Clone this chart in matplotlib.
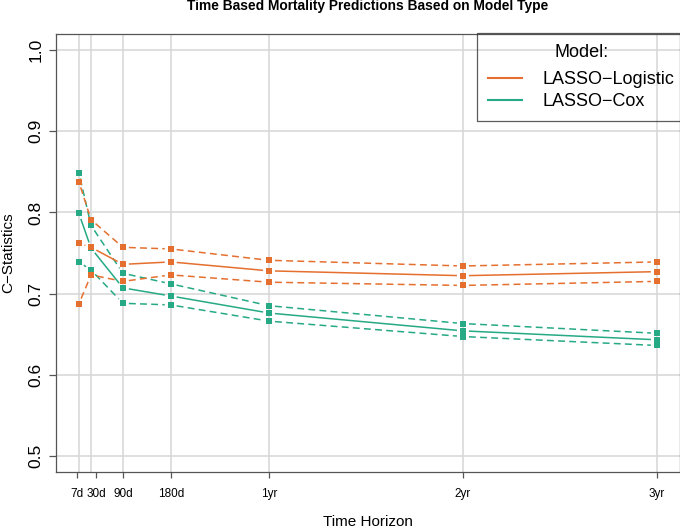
import matplotlib
matplotlib.use('Agg')
import matplotlib.pyplot as plt
from matplotlib.lines import Line2D
import numpy as np

plt.rcParams['font.family'] = ['Liberation Sans', 'DejaVu Sans']

# time horizons in days and their labels
days = [7, 30, 90, 180, 365, 730, 1095]
tick_labels = ['7d', '30d', '90d', '180d', '1yr', '2yr', '3yr']
tick_pos = [3, 40, 90, 180, 365, 730, 1095]   # 7d/30d labels pushed apart

# C-statistics with lower / upper bounds
logistic_mid = [0.762, 0.757, 0.736, 0.739, 0.728, 0.722, 0.727]
logistic_lo = [0.687, 0.723, 0.715, 0.723, 0.714, 0.710, 0.715]
logistic_hi = [0.838, 0.791, 0.757, 0.755, 0.741, 0.734, 0.739]

cox_mid = [0.799, 0.756, 0.707, 0.697, 0.676, 0.654, 0.643]
cox_lo = [0.739, 0.729, 0.688, 0.686, 0.666, 0.647, 0.636]
cox_hi = [0.849, 0.784, 0.725, 0.712, 0.685, 0.663, 0.651]

y_ticks = [0.5, 0.6, 0.7, 0.8, 0.9, 1.0]

col_log = '#E56F2E'
col_cox = '#26A985'
grid_col = '#D6D6D6'
W, H = 680, 528

fig = plt.figure(figsize=(W / 100, H / 100), dpi=100)
ax = fig.add_axes([55.7 / W, 1 - 472 / H, (W - 55.7) / W, (472 - 34) / H])
ax.set_xlim(7 - 0.04 * 1088, 1095 + 0.04 * 1088)
ax.set_ylim(0.48, 1.02)

for y in y_ticks:
    ax.axhline(y, color=grid_col, lw=1.1, zorder=0)
for d in days:
    ax.axvline(d, color=grid_col, lw=1.1, zorder=0)


def draw_b(x, y, color, dashed, gap=6.0):
    # R style type="b": points joined by lines that stop short of each point
    pts = ax.transData.transform(np.column_stack([x, y]))
    inv = ax.transData.inverted()
    for p, q in zip(pts[:-1], pts[1:]):
        v = q - p
        n = np.hypot(*v)
        if n <= 2 * gap:
            continue
        a = inv.transform(p + v / n * gap)
        b = inv.transform(q - v / n * gap)
        ln, = ax.plot([a[0], b[0]], [a[1], b[1]], color=color, lw=1.1,
                      solid_capstyle='butt', dash_capstyle='butt', zorder=2)
        if dashed:
            ln.set_dashes((4.5, 2.8))
    ax.plot(x, y, ls='none', marker='s', ms=4.2, mew=0, color=color, zorder=3)


draw_b(days, cox_lo, col_cox, True)
draw_b(days, cox_hi, col_cox, True)
draw_b(days, cox_mid, col_cox, False)
draw_b(days, logistic_lo, col_log, True)
draw_b(days, logistic_hi, col_log, True)
draw_b(days, logistic_mid, col_log, False)

for s in ax.spines.values():
    s.set_color('#555555')
    s.set_linewidth(0.9)

ax.set_xticks(tick_pos)
ax.set_xticklabels(tick_labels)
ax.set_yticks(y_ticks)
ax.set_yticklabels(['0.5', '0.6', '0.7', '0.8', '0.9', '1.0'], rotation=90, va='center')
ax.tick_params(axis='x', length=4.5, width=0.9, color='#555555', pad=7, labelsize=8.5)
ax.tick_params(axis='y', length=5.3, width=0.9, color='#555555', pad=3.5, labelsize=12.5)

fig.text(368 / W, 1 - 6 / H, 'Time Based Mortality Predictions Based on Model Type',
         ha='center', va='center', fontsize=9.9, fontweight='bold')
fig.text(368 / W, 1 - 522 / H, 'Time Horizon', ha='center', va='center', fontsize=11)
fig.text(8 / W, 1 - 253 / H, 'C\u2212Statistics', ha='center', va='center',
         rotation=90, fontsize=11)

handles = [Line2D([], [], color=col_log, lw=1.5), Line2D([], [], color=col_cox, lw=1.5)]
leg = ax.legend(handles, ['LASSO\u2212Logistic', 'LASSO\u2212Cox'], title='Model:',
                loc='upper left', bbox_to_anchor=(477.3 / W, 1 - 33.3 / H),
                bbox_transform=fig.transFigure, borderaxespad=0, fontsize=13,
                title_fontsize=13, handlelength=1.9, handletextpad=1.1,
                borderpad=0.6, labelspacing=0.28, fancybox=False,
                facecolor='none', edgecolor='#333333')
leg.get_frame().set_linewidth(0.9)
leg._legend_box.sep = 7   # more room under the legend title

fig.savefig('out.png', dpi=100)
